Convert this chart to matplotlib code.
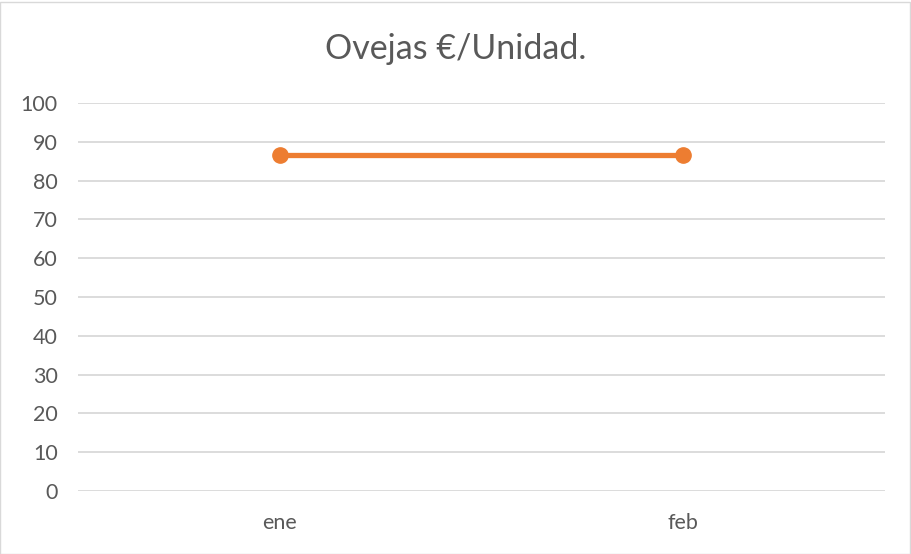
import matplotlib.pyplot as plt
from matplotlib.patches import Rectangle

# datos
meses = ['ene', 'feb']
precio = [86.7, 86.7]
yticks = list(range(0, 101, 10))

plt.rcParams['font.family'] = ['Lato', 'DejaVu Sans']
gris = '#595959'

fig = plt.figure(figsize=(9.12, 5.54), dpi=100)
ax = fig.add_axes([78 / 912, 63 / 554, 807 / 912, 388 / 554])

x = list(range(len(meses)))
ax.plot(x, precio, color='#ED7D31', lw=3.8, marker='o', ms=11,
        solid_capstyle='butt', zorder=3)

ax.set_xlim(-0.5, len(meses) - 0.5)
ax.set_ylim(0, 100)
ax.set_yticks(yticks)
ax.set_xticks(x)
ax.set_xticklabels(meses)
ax.grid(axis='y', color='#d9d9d9', lw=1.3)
ax.set_axisbelow(True)
for s in ax.spines.values():
    s.set_visible(False)
ax.tick_params(length=0, labelsize=15.5, colors=gris)
ax.tick_params(axis='y', pad=14.5)
ax.tick_params(axis='x', pad=16)

# titulo
fig.text(0.5, 1 - 59 / 554, 'Ovejas €/Unidad.', ha='center', va='baseline',
         fontsize=24.5, color=gris)

# borde del grafico
fig.patches.append(Rectangle((0.5 / 912, 0.5 / 554), 910 / 912, 552 / 554,
                             transform=fig.transFigure, fill=False,
                             edgecolor='#d9d9d9', lw=1))

fig.savefig('out.png', dpi=100)
